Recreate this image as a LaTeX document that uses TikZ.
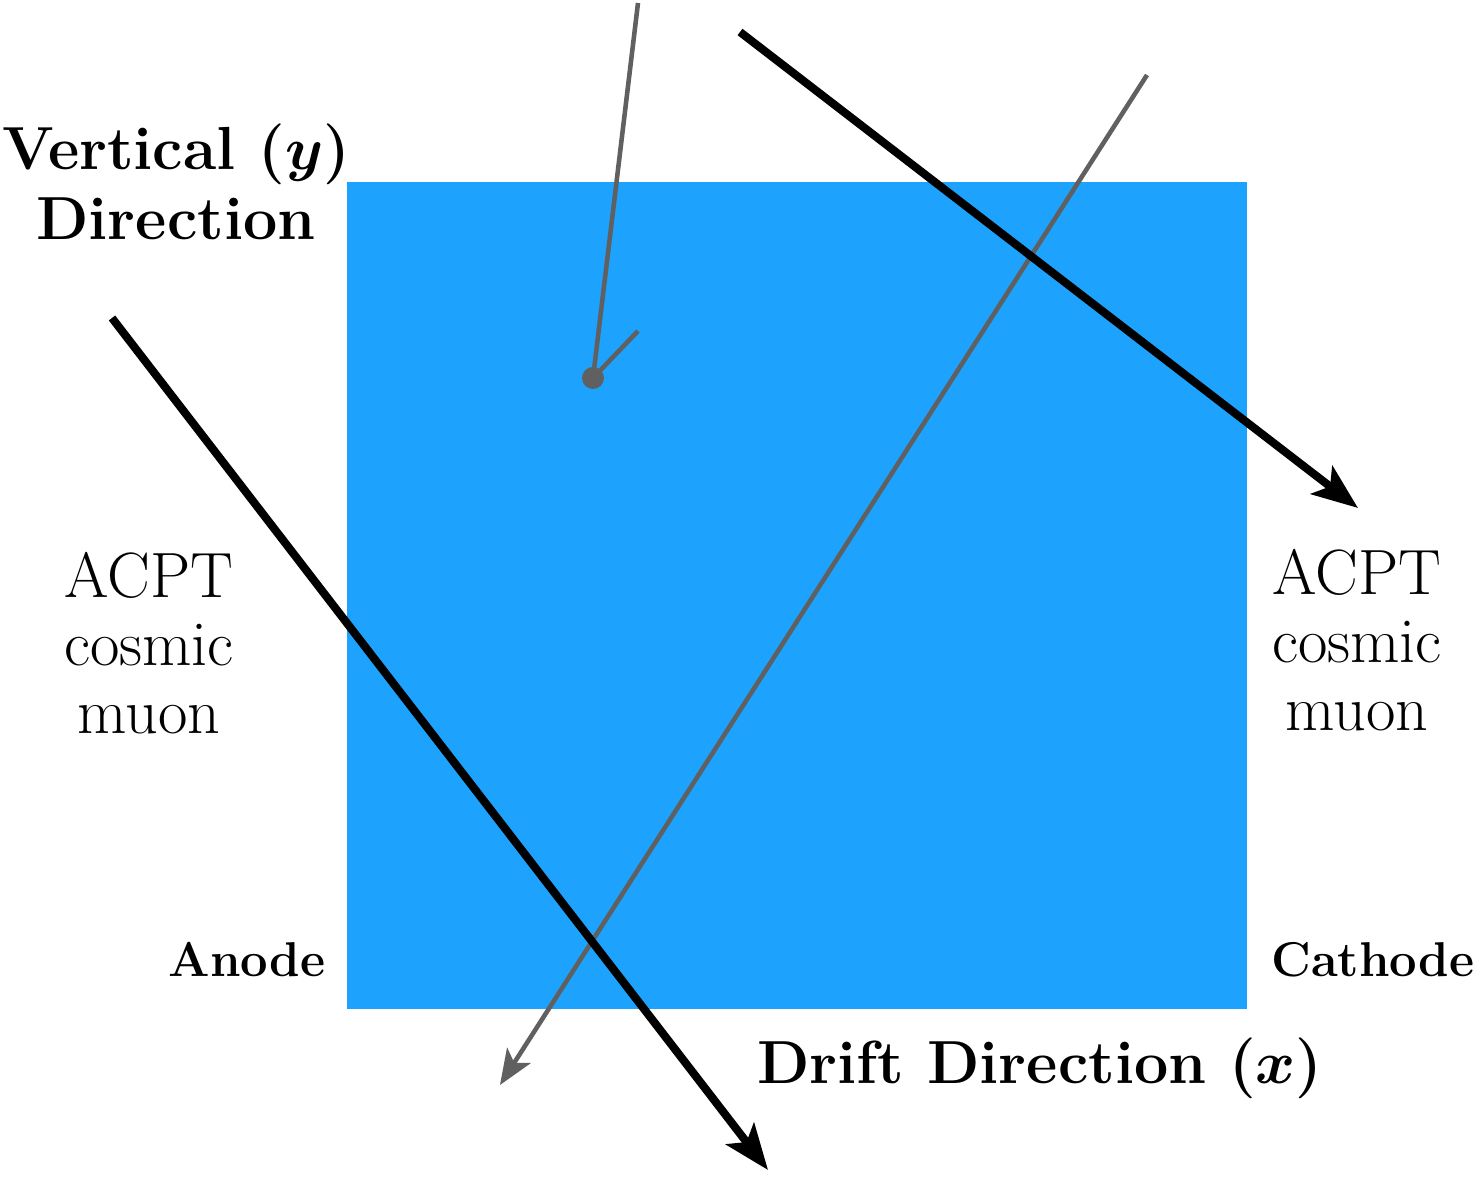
\documentclass[tikz,border=0pt]{standalone}
\usepackage{bm}
\usetikzlibrary{arrows.meta}
\definecolor{tpcblue}{RGB}{29,163,253}
\definecolor{trackgray}{RGB}{96,96,96}
\tikzset{
  bigtext/.style={font=\fontsize{17.5}{20}\selectfont, align=center, inner sep=0pt},
  smalltext/.style={font=\fontsize{13.9}{16}\selectfont\bfseries, inner sep=0pt},
  muon/.style={line width=2.3pt, -{Stealth[length=13pt, width=10pt, inset=3pt]}},
  track/.style={trackgray, line width=1.3pt},
}
\begin{document}
\begin{tikzpicture}[x=0.01cm,y=-0.01cm]
  \useasboundingbox (0,0) rectangle (1478,1180);
  % detector volume
  \fill[tpcblue] (347,182) rectangle (1247,1009);
  % labels
  \node[bigtext, font=\fontsize{17.3}{20}\selectfont\bfseries] (vert) at (176,182) {Vertical ($\bm{y}$)\\Direction};
  \node[bigtext, font=\fontsize{18.2}{19.3}\selectfont] (acptl) at (149,643) {ACPT\\cosmic\\muon};
  \node[bigtext, font=\fontsize{18.2}{19.3}\selectfont] (acptr) at (1357,640) {ACPT\\cosmic\\muon};
  \node[smalltext] (anode) at (247,960) {Anode};
  \node[smalltext] (cathode) at (1373,960) {Cathode};
  \node[bigtext, font=\fontsize{17.3}{20}\selectfont\bfseries] (drift) at (1040,1068) {Drift Direction ($\bm{x}$)};
  % stopping track with a short branch
  \coordinate (stoptop) at (638,3);
  \coordinate (stopend) at (593,378);
  \coordinate (branch) at (638,331);
  \draw[track] (stoptop) -- (stopend) -- (branch);
  \fill[trackgray] (stopend) circle (11);
  % through-going gray track
  \coordinate (graytop) at (1147,75);
  \coordinate (graybot) at (500,1085);
  \draw[track, -{Stealth[length=10pt, width=8pt, inset=2.5pt]}] (graytop) -- (graybot);
  % ACPT muons
  \coordinate (mua) at (740,32);
  \coordinate (mub) at (1358,508);
  \coordinate (muc) at (112,318);
  \coordinate (mud) at (768,1170);
  \draw[muon] (mua) -- (mub);
  \draw[muon] (muc) -- (mud);
\end{tikzpicture}
\end{document}
